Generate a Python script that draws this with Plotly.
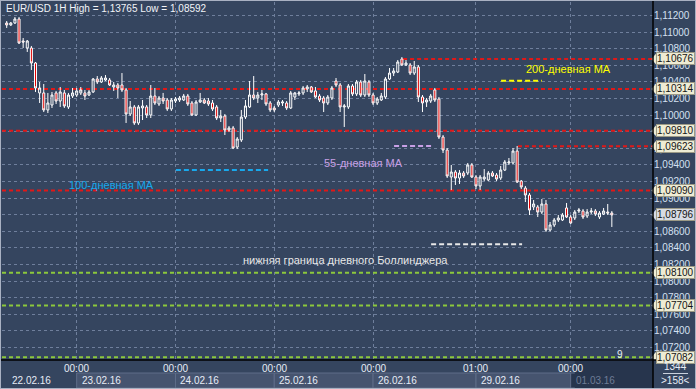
import plotly.graph_objects as go

# ---------------- data (EUR/USD 1H) ----------------
opens = [1.11109,1.11085,1.11109,1.11157,1.10892,1.10808,1.10808,1.10627,1.10266,1.10266,
         1.10061,1.10121,1.10266,1.10169,1.10266,1.10097,1.10229,1.10241,1.10266,1.10266,
         1.10241,1.10278,1.10434,1.10398,1.10422,1.10422,1.10338,1.10362,1.10362,1.10302,
         1.10012,1.10097,1.09904,1.10085,1.10097,1.10000,1.10229,1.10133,1.10205,1.10181,
         1.10073,1.10169,1.10181,1.10181,1.10229,1.10145,1.10000,1.10157,1.10181,1.10169,
         1.10145,1.10097,1.09964,1.09988,1.09819,1.09844,1.09614,1.09699,1.09976,1.10097,
         1.10241,1.10205,1.10241,1.10254,1.10145,1.10085,1.10121,1.10145,1.10145,1.10085,
         1.10217,1.10254,1.10266,1.10314,1.10338,1.10290,1.10229,1.10205,1.10145,1.10205,
         1.10410,1.10362,1.10097,1.10097,1.10350,1.10254,1.10398,1.10241,1.10398,1.10241,
         1.10145,1.10181,1.10217,1.10434,1.10506,1.10518,1.10675,1.10603,1.10603,1.10506,
         1.10579,1.10217,1.10157,1.10169,1.10302,1.10193,1.09735,1.09578,1.09253,1.09313,
         1.09241,1.09301,1.09301,1.09398,1.09253,1.09145,1.09229,1.09217,1.09301,1.09277,
         1.09241,1.09337,1.09422,1.09422,1.09566,1.09205,1.09120,1.09036,1.08892,1.08892,
         1.08831,1.08928,1.08614,1.08675,1.08735,1.08735,1.08880,1.08771,1.08759,1.08843,
         1.08843,1.08783,1.08831,1.08843,1.08771,1.08807,1.08831,1.08819]
highs = [1.11133,1.11121,1.11181,1.11181,1.10928,1.10904,1.10832,1.10639,1.10398,1.10374,
         1.10266,1.10278,1.10290,1.10338,1.10302,1.10266,1.10326,1.10326,1.10338,1.10302,
         1.10302,1.10446,1.10470,1.10470,1.10482,1.10446,1.10398,1.10386,1.10506,1.10326,
         1.10169,1.10121,1.10121,1.10181,1.10121,1.10362,1.10326,1.10229,1.10266,1.10205,
         1.10205,1.10217,1.10229,1.10254,1.10254,1.10169,1.10181,1.10266,1.10205,1.10205,
         1.10181,1.10121,1.10061,1.10012,1.09868,1.09868,1.09735,1.10061,1.10181,1.10410,
         1.10470,1.10278,1.10302,1.10266,1.10169,1.10109,1.10181,1.10181,1.10169,1.10290,
         1.10278,1.10290,1.10350,1.10362,1.10350,1.10338,1.10254,1.10229,1.10241,1.10350,
         1.10446,1.10386,1.10133,1.10374,1.10374,1.10422,1.10422,1.10494,1.10422,1.10266,
         1.10217,1.10266,1.10458,1.10567,1.10567,1.10663,1.10699,1.10663,1.10627,1.10651,
         1.10603,1.10241,1.10205,1.10254,1.10326,1.10217,1.09759,1.09602,1.09398,1.09337,
         1.09337,1.09325,1.09422,1.09422,1.09277,1.09277,1.09349,1.09325,1.09325,1.09301,
         1.09386,1.09458,1.09482,1.09602,1.09627,1.09217,1.09145,1.09060,1.08976,1.08916,
         1.08988,1.08976,1.08711,1.08759,1.08795,1.08819,1.08940,1.08795,1.08855,1.08880,
         1.08867,1.08867,1.08880,1.08867,1.08843,1.08880,1.08928,1.08843]
lows = [1.11049,1.11073,1.11097,1.10856,1.10808,1.10760,1.10543,1.10278,1.10145,1.10036,
        1.10024,1.10085,1.10133,1.10097,1.10085,1.10073,1.10205,1.10217,1.10241,1.10181,
        1.10229,1.10266,1.10374,1.10386,1.10410,1.10350,1.10290,1.10205,1.10278,1.09904,
        1.09988,1.09880,1.09880,1.09940,1.09964,1.09964,1.10121,1.10109,1.10133,1.10049,
        1.10049,1.10145,1.10157,1.10169,1.10109,1.09988,1.09988,1.10145,1.10133,1.10109,
        1.10049,1.09940,1.09916,1.09759,1.09795,1.09590,1.09590,1.09675,1.09952,1.10085,
        1.10181,1.10145,1.10181,1.10109,1.10036,1.10036,1.10097,1.10109,1.10061,1.10073,
        1.10181,1.10229,1.10241,1.10278,1.10266,1.10205,1.10157,1.10036,1.10121,1.10181,
        1.10338,1.10036,1.09856,1.10073,1.10229,1.10229,1.10217,1.10217,1.10217,1.10121,
        1.10121,1.10169,1.10193,1.10422,1.10470,1.10506,1.10591,1.10591,1.10482,1.10482,
        1.10157,1.10036,1.10097,1.10145,1.10157,1.09711,1.09542,1.09241,1.09096,1.09157,
        1.09169,1.09241,1.09277,1.09241,1.09108,1.09096,1.09205,1.09205,1.09253,1.09205,
        1.09217,1.09325,1.09398,1.09410,1.09181,1.09108,1.08952,1.08795,1.08855,1.08771,
        1.08807,1.08592,1.08598,1.08651,1.08711,1.08723,1.08759,1.08687,1.08735,1.08819,
        1.08747,1.08759,1.08807,1.08783,1.08747,1.08795,1.08795,1.08651]
closes = [1.11085,1.11109,1.11157,1.10868,1.10880,1.10892,1.10627,1.10326,1.10326,1.10061,
          1.10145,1.10241,1.10169,1.10278,1.10109,1.10241,1.10266,1.10290,1.10302,1.10229,
          1.10278,1.10434,1.10398,1.10446,1.10446,1.10362,1.10362,1.10326,1.10302,1.10012,
          1.10097,1.09904,1.10097,1.10109,1.10000,1.10229,1.10145,1.10205,1.10169,1.10073,
          1.10181,1.10193,1.10205,1.10229,1.10133,1.10000,1.10157,1.10181,1.10145,1.10133,
          1.10073,1.09964,1.09988,1.09819,1.09844,1.09602,1.09711,1.09976,1.10109,1.10241,
          1.10205,1.10241,1.10254,1.10133,1.10061,1.10061,1.10157,1.10157,1.10085,1.10266,
          1.10266,1.10266,1.10326,1.10338,1.10278,1.10217,1.10181,1.10145,1.10217,1.10326,
          1.10362,1.10097,1.10109,1.10350,1.10254,1.10398,1.10241,1.10410,1.10241,1.10145,
          1.10193,1.10229,1.10434,1.10506,1.10531,1.10639,1.10603,1.10627,1.10506,1.10579,
          1.10217,1.10145,1.10181,1.10229,1.10181,1.09735,1.09578,1.09265,1.09313,1.09241,
          1.09301,1.09265,1.09398,1.09253,1.09145,1.09253,1.09253,1.09301,1.09265,1.09229,
          1.09337,1.09434,1.09434,1.09566,1.09193,1.09133,1.09036,1.08855,1.08928,1.08831,
          1.08928,1.08614,1.08675,1.08735,1.08759,1.08795,1.08771,1.08699,1.08831,1.08855,
          1.08771,1.08831,1.08843,1.08807,1.08819,1.08843,1.08819,1.08796]

# day separators (candle index) and labels
day_idx = [17, 41, 65, 89, 114, 137]
time_labels = ["00:00", "00:00", "00:00", "00:00", "01:00", "00:00"]
first_date = "22.02.16"
date_labels = ["23.02.16", "24.02.16", "25.02.16", "26.02.16", "29.02.16", "01.03.16"]

ytick_vals = [1.072, 1.074, 1.076, 1.078, 1.080, 1.082, 1.084, 1.086, 1.088, 1.090, 1.092,
              1.094, 1.096, 1.098, 1.100, 1.102, 1.104, 1.106, 1.108, 1.110, 1.112]
ytick_text = ["1,07200", "1,07400", "1,07600", "1,07800", "1,08000", "1,08200", "1,08400",
              "1,08600", "1,08800", "1,09000", "1,09200", "1,09400", "1,09600", "1,09800",
              "1,10000", "1,10200", "1,10400", "1,10600", "1,10800", "1,11000", "1,11200"]

red_levels = [1.10676, 1.10314, 1.09810, 1.09623, 1.09090]
red_level_from = [96.3, None, None, 124.2, None]     # candle index where line starts
green_levels = [1.08100, 1.07704, 1.07082]
last_price = 1.08796

ma_names = ["200-дневная МА", "55-дневная МА", "100-дневная МА",
            "нижняя граница дневного Боллинджера"]
ma_values = [1.10414, 1.09627, 1.09337, 1.08442]
ma_from = [120.1, 94.1, 41.1, 103.1]
ma_to = [130.0, 103.8, 63.5, 125.2]

title_text = "EUR/USD 1H High = 1,13765 Low = 1,08592"
bars_total = "1344"
bars_shown = ">158<"
countdown = "9"

# ---------------- styling ----------------
BG = "#35455f"
FONT = "Liberation Sans, Arial, sans-serif"
X0, X1 = -1.14, 157.0
Y0, Y1 = 1.07048, 1.11362
W, H = 696, 389
ML, MR, MT, MB = 2, 43, 2, 29
PW, PH = W - ML - MR, H - MT - MB


def px(xp):   # pixel x -> paper
    return (xp - ML) / PW


def py(yp):   # pixel y -> paper
    return (H - MB - yp) / PH


fig = go.Figure()
fig.add_trace(go.Candlestick(
    x=list(range(len(opens))), open=opens, high=highs, low=lows, close=closes,
    increasing=dict(line=dict(color="#ffffff", width=1), fillcolor=BG),
    decreasing=dict(line=dict(color="#ffffff", width=1), fillcolor="#e00000"),
    whiskerwidth=0, hoverinfo="skip", showlegend=False))

shapes = []
annotations = []

# level lines
for lv, st in zip(red_levels, red_level_from):
    shapes.append(dict(type="line", xref="x", yref="y", x0=X0 if st is None else st, x1=X1,
                       y0=lv, y1=lv, layer="between",
                       line=dict(color="#e01818", width=2, dash="4px,3px")))
for lv in green_levels:
    shapes.append(dict(type="line", xref="x", yref="y", x0=X0, x1=X1, y0=lv, y1=lv,
                       layer="between", line=dict(color="#8cc83c", width=2, dash="4px,3px")))

# MA marker segments and captions
ma_colors = ["#ffff00", "#c8a0e6", "#18a8ec", "#e8e8e8"]
ma_text_pos = [(568, 69), (363.5, 163), (111, 184.5), (345.5, 260)]
for v, a, b, c, name, (tx, ty) in zip(ma_values, ma_from, ma_to, ma_colors, ma_names, ma_text_pos):
    shapes.append(dict(type="line", xref="x", yref="y", x0=a, x1=b, y0=v, y1=v,
                       line=dict(color=c, width=2, dash="5px,3px")))
    annotations.append(dict(text=name, xref="paper", yref="paper", x=px(tx), y=py(ty),
                            xanchor="center", yanchor="middle", showarrow=False,
                            font=dict(family=FONT, size=11, color=c)))

# x-axis area: date cells
cell_edges = day_idx + [X1]
for k in range(len(day_idx)):
    last = (k == len(day_idx) - 1)
    shapes.append(dict(type="rect", xref="x", yref="paper",
                       x0=cell_edges[k], x1=cell_edges[k + 1], y0=py(388), y1=py(373),
                       fillcolor="#27354d" if last else "#46546f",
                       line=dict(color="#5f6d89", width=1), layer="below"))
shapes.append(dict(type="rect", xref="x", yref="paper", x0=138.0, x1=X1, y0=py(388), y1=py(361),
                   fillcolor="#27354d", line=dict(width=0), layer="below"))

for d, t, lab in zip(day_idx, time_labels, date_labels):
    dim = (lab == date_labels[-1])
    annotations.append(dict(text=t, xref="x", yref="paper", x=d, y=py(368), xanchor="center",
                            yanchor="middle", showarrow=False,
                            font=dict(family=FONT, size=10, color="#e6ecf6")))
    annotations.append(dict(text=lab, xref="x", yref="paper", x=d, xshift=3, y=py(380.5),
                            xanchor="left", yanchor="middle", showarrow=False,
                            font=dict(family=FONT, size=10, color="#6e7c96" if dim else "#e6ecf6")))
annotations.append(dict(text=first_date, xref="paper", yref="paper", x=px(10), y=py(380.5),
                        xanchor="left", yanchor="middle", showarrow=False,
                        font=dict(family=FONT, size=10, color="#e6ecf6")))

# price labels on the right axis
def price_tag(value, bg):
    txt = ("%.5f" % value).replace(".", ",")
    annotations.append(dict(text=txt, xref="paper", yref="y", x=px(656), y=value,
                            xanchor="left", yanchor="middle", showarrow=False,
                            bgcolor=bg, borderpad=0, bordercolor="#9c9a86", borderwidth=1,
                            font=dict(family=FONT, size=10, color="#141414")))
    d = 6.0 / (PH / (Y1 - Y0))
    shapes.append(dict(type="path", xref="paper", yref="y", layer="above",
                       path="M %f,%f L %f,%f L %f,%f Z" % (px(651.5), value, px(656.5), value + d,
                                                           px(656.5), value - d),
                       fillcolor=bg, line=dict(width=0)))

for lv in red_levels + green_levels:
    price_tag(lv, "#eeecd4")
price_tag(last_price, "#d6dbe4")

# frame lines
shapes.append(dict(type="line", xref="paper", yref="paper", x0=1, x1=1, y0=py(389), y1=py(0),
                   line=dict(color="#000000", width=1.5)))
shapes.append(dict(type="line", xref="paper", yref="paper", x0=px(0), x1=px(696), y0=0, y1=0,
                   line=dict(color="#000000", width=1.5)))
shapes.append(dict(type="rect", xref="paper", yref="paper", x0=px(0), x1=px(696), y0=py(389), y1=py(0),
                   line=dict(color="#a9b1c2", width=2)))
shapes.append(dict(type="line", xref="paper", yref="paper", x0=px(663), x1=px(688), y0=py(373.5), y1=py(373.5),
                   line=dict(color="#c8d0dc", width=1)))

# texts
annotations.append(dict(text=title_text, xref="paper", yref="paper", x=px(4), y=py(8),
                        xanchor="left", yanchor="middle", showarrow=False,
                        font=dict(family=FONT, size=10, color="#f2f4f8")))
annotations.append(dict(text=bars_total, xref="paper", yref="paper", x=px(675), y=py(366.5),
                        xanchor="center", yanchor="middle", showarrow=False,
                        font=dict(family=FONT, size=10, color="#e6ecf6")))
annotations.append(dict(text=bars_shown, xref="paper", yref="paper", x=px(675), y=py(380),
                        xanchor="center", yanchor="middle", showarrow=False,
                        font=dict(family=FONT, size=10, color="#e6ecf6")))
annotations.append(dict(text=countdown, xref="paper", yref="paper", x=px(620), y=py(354.5),
                        xanchor="center", yanchor="middle", showarrow=False,
                        font=dict(family=FONT, size=10, color="#e6ecf6")))

fig.update_layout(
    width=W, height=H, margin=dict(l=ML, r=MR, t=MT, b=MB),
    paper_bgcolor=BG, plot_bgcolor=BG, showlegend=False,
    xaxis=dict(range=[X0, X1], rangeslider=dict(visible=False), tickvals=day_idx,
               showticklabels=False, ticks="", showgrid=True, gridcolor="#6f7f9c",
               griddash="3px,3px", gridwidth=1, zeroline=False, showline=False),
    yaxis=dict(range=[Y0, Y1], side="right", tickvals=ytick_vals, ticktext=ytick_text,
               showgrid=True, gridcolor="#6f7f9c", griddash="3px,3px", gridwidth=1,
               ticks="", zeroline=False, showline=False,
               tickfont=dict(family=FONT, size=10, color="#d4e0f2")),
    shapes=shapes, annotations=annotations,
)

fig.write_html("out.html", config={"displayModeBar": False})
